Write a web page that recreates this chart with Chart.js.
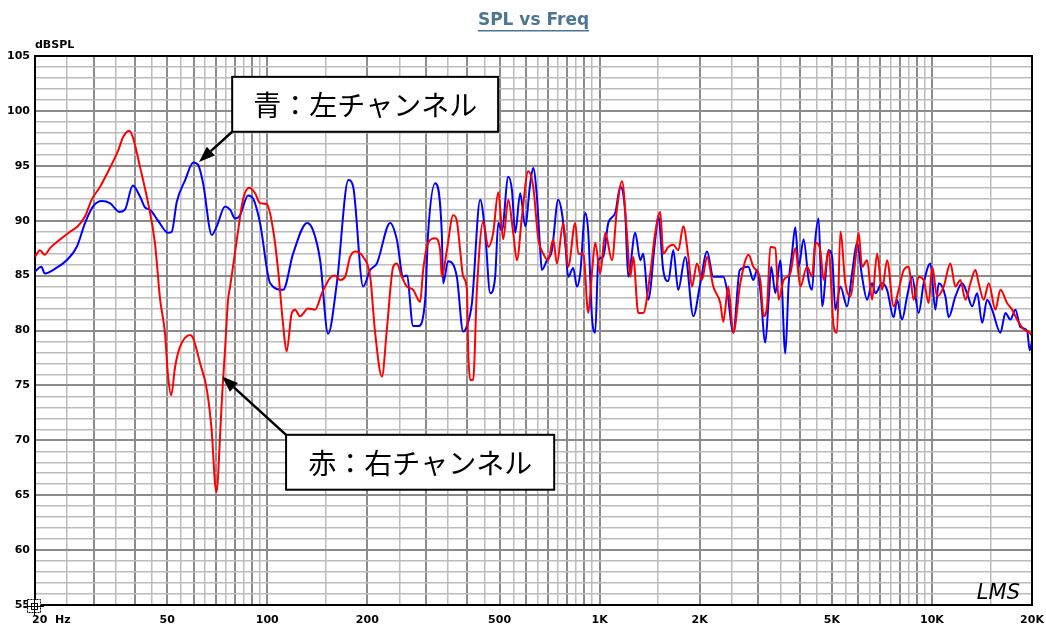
<!DOCTYPE html>
<html>
<head>
<meta charset="utf-8">
<script src="https://cdn.jsdelivr.net/npm/chart.js@4.4.1/dist/chart.umd.min.js"></script>
<style>
  html, body { margin: 0; padding: 0; background: #fff; }
</style>
</head>
<body>
<canvas id="spl" width="1046" height="628"></canvas>
<script>
// Left channel (blue) - frequency in Hz, level in dBSPL
const blueFreq = [
  20, 20.9, 21.4, 23.2, 24.9, 26.7, 28.3, 29.9, 31.8, 33.6,
  36.0, 37.3, 39.4, 41.4, 42.9, 44.4, 46.9, 50.3, 51.6, 53.4,
  56.6, 59.9, 61.9, 64.1, 68.1, 70.5, 74.6, 77.3, 80, 82.8,
  87.5, 90.7, 95.1, 102, 111.6, 119.6, 131.8, 137.4, 144.2, 152.4,
  161.9, 175.4, 181.3, 194.3, 204, 213.6, 234.3, 245.3, 256.3, 263,
  274.7, 284.5, 298.6, 304.8, 320, 335, 338.2, 350, 371.8, 388.5,
  398.7, 412.8, 437.1, 452.5, 468.5, 485, 495.4, 508, 531, 544.6,
  557.2, 576.8, 597.2, 618.2, 631.2, 647.5, 662.6, 670, 694, 718.6,
  750.7, 770.2, 787.9, 804.5, 832.8, 854.4, 874.2, 905, 924.5, 947.8,
  970, 990.7, 1025, 1062, 1114, 1154, 1194, 1219, 1280, 1325,
  1353, 1400, 1470, 1502, 1554, 1609, 1666, 1724, 1810, 1914,
  2009, 2105, 2198, 2356, 2417, 2525, 2640, 2801, 2901, 2976,
  3044, 3152, 3225, 3285, 3378, 3497, 3620, 3706, 3791, 3880,
  3970, 4110, 4255, 4357, 4457, 4560, 4671, 4888, 5008, 5120,
  5301, 5553, 5749, 5951, 6162, 6380, 6605, 6756, 7081, 7327,
  7669, 7851, 8128, 8416, 8713, 9121, 9442, 9891, 10240, 10479,
  10975, 11228, 11763, 12324, 12759, 13210, 13675, 14163, 14653, 15165,
  16069, 16635, 17222, 17829, 18458, 19334, 19687, 20000
];
const blueDb = [
  85.4, 85.8, 85.2, 85.7, 86.4, 87.6, 89.8, 91.3, 91.8, 91.6,
  90.8, 91.0, 93.2, 92.2, 91.2, 91.0, 90.0, 88.9, 89.0, 91.7,
  93.7, 95.3, 95.1, 93.4, 88.7, 89.5, 91.3, 91.0, 90.2, 90.5,
  92.3, 92.0, 89.8, 84.3, 83.7, 87.0, 89.8, 89.1, 86.4, 79.7,
  84.3, 93.7, 93.1, 84.0, 85.5, 86.1, 89.8, 88.3, 84.9, 85.0,
  80.4, 80.4, 82.8, 88.9, 93.4, 88.9, 84.3, 86.3, 84.9, 79.9,
  80.4, 82.5, 91.9, 88.9, 83.4, 84.9, 89.8, 89.1, 94.0, 92.8,
  88.9, 92.5, 89.5, 93.4, 94.8, 92.2, 87.3, 85.5, 86.4, 87.3,
  91.9, 90.7, 88.0, 84.9, 85.7, 84.0, 85.2, 90.7, 88.9, 81.3,
  79.8, 86.4, 86.7, 89.8, 90.7, 93.1, 90.7, 84.9, 88.9, 86.4,
  87.0, 82.8, 88.3, 90.4, 85.5, 84.5, 87.3, 83.7, 86.7, 81.3,
  84.3, 87.2, 84.9, 84.9, 83.7, 79.8, 85.5, 85.8, 84.6, 85.5,
  83.7, 78.9, 82.8, 85.8, 83.4, 86.4, 77.9, 84.3, 87.0, 89.4,
  85.8, 88.3, 84.6, 83.7, 88.3, 90.2, 82.2, 87.3, 86.7, 81.9,
  84.0, 82.2, 85.2, 88.0, 84.9, 82.8, 84.3, 83.4, 84.3, 83.7,
  81.2, 82.8, 81.0, 83.1, 84.9, 81.6, 84.3, 86.1, 81.9, 84.3,
  83.1, 81.2, 83.1, 84.3, 83.4, 82.2, 83.4, 80.7, 82.8, 81.9,
  79.8, 81.6, 81.0, 81.9, 80.3, 80.0, 78.2, 79.0
];

// Right channel (red)
const redFreq = [
  20, 20.7, 21.4, 22.2, 23.8, 25.5, 26.9, 28.3, 29.6, 31.4,
  33.6, 35.6, 36.8, 38.4, 39.4, 41.4, 43.8, 45.9, 47.6, 49.2,
  50.3, 51.4, 52.8, 54.6, 58.6, 59.8, 62.8, 65.8, 68.1, 69.6,
  70.5, 71.8, 73.0, 74.6, 76.2, 77.3, 81.0, 84.5, 88.2, 91.9,
  95.1, 99.7, 104.1, 107.8, 111.6, 114.3, 118.5, 121.3, 125.5, 132.7,
  139.3, 146, 154.6, 160, 165.6, 171.5, 177.5, 183.8, 194.3, 204,
  211.1, 221.3, 229, 239.2, 245.3, 254, 263, 274.7, 288.4, 294.4,
  304.8, 320, 331.3, 335, 347, 362.5, 371.8, 380.5, 388.5, 398.7,
  402.3, 407.9, 416.4, 427.3, 446.4, 462.3, 478.4, 495.4, 512.6, 531,
  549.5, 563.8, 583.9, 609.6, 631.2, 653.5, 676.5, 700.2, 725, 743.9,
  777, 804.5, 844.5, 862.1, 892.8, 924.5, 947.8, 970, 1004, 1040,
  1089, 1127, 1168, 1208, 1237, 1262, 1307, 1353, 1420, 1470,
  1522, 1554, 1609, 1666, 1724, 1786, 1849, 1896, 1963, 2032,
  2105, 2198, 2307, 2356, 2439, 2525, 2650, 2807, 2901, 3044,
  3115, 3190, 3263, 3378, 3456, 3578, 3748, 3880, 4017, 4208,
  4357, 4457, 4614, 4721, 4888, 5060, 5180, 5301, 5488, 5681,
  5881, 6017, 6162, 6380, 6605, 6837, 7081, 7327, 7669, 7940,
  8220, 8510, 8810, 9121, 9442, 9776, 10016, 10363, 10846, 11362,
  11763, 12177, 12607, 13052, 13512, 13824, 14311, 14823, 15521, 16069,
  16831, 17428, 18039, 18883, 19687, 20000
];
const redDb = [
  86.7, 87.3, 86.9, 87.5, 88.3, 89.0, 89.5, 90.4, 91.9, 93.1,
  94.8, 96.4, 97.6, 98.2, 97.6, 94.9, 91.6, 88.0, 82.8, 79.8,
  75.8, 74.1, 76.7, 78.5, 79.6, 79.3, 77.0, 74.6, 70.7, 66.1,
  65.3, 69.3, 73.7, 78.2, 82.8, 84.0, 88.3, 91.9, 93.0, 92.5,
  91.6, 91.5, 89.2, 85.5, 80.5, 78.1, 81.6, 81.9, 81.3, 82.0,
  81.9, 83.4, 84.8, 85.0, 84.6, 84.9, 86.7, 87.2, 86.7, 84.9,
  79.8, 75.8, 80.1, 85.8, 86.1, 84.9, 84.0, 83.7, 82.6, 85.5,
  88.0, 88.4, 87.3, 84.9, 87.3, 90.5, 90.0, 87.3, 84.9, 83.7,
  78.2, 75.5, 75.5, 83.7, 89.9, 87.6, 88.9, 92.6, 88.3, 91.9,
  88.9, 86.4, 90.4, 94.5, 93.1, 88.4, 87.0, 86.4, 88.3, 86.1,
  89.8, 85.8, 89.8, 87.0, 87.0, 81.6, 85.2, 88.0, 85.2, 88.9,
  86.4, 91.0, 93.6, 88.9, 84.9, 86.7, 81.6, 81.6, 85.2, 88.9,
  90.8, 87.0, 87.6, 87.8, 87.3, 89.5, 86.7, 84.0, 86.1, 84.6,
  86.7, 84.0, 82.5, 80.8, 84.0, 79.8, 84.3, 86.9, 85.8, 84.6,
  81.3, 82.2, 87.6, 87.5, 82.8, 84.6, 85.2, 87.5, 84.0, 85.8,
  84.9, 88.0, 87.3, 84.6, 87.3, 80.4, 79.8, 89.0, 84.3, 83.1,
  86.4, 88.9, 85.8, 86.4, 82.8, 87.0, 83.7, 86.4, 82.2, 83.7,
  85.5, 85.8, 82.8, 84.9, 84.6, 82.5, 85.8, 83.1, 84.0, 86.1,
  84.0, 84.6, 82.8, 84.3, 85.5, 84.3, 82.8, 84.3, 81.9, 83.7,
  82.5, 81.9, 81.0, 80.1, 79.8, 79.5
];

// axes
const freqTicks = [20, 50, 100, 200, 500, 1000, 2000, 5000, 10000, 20000];
const freqTickText = ["20 Hz", "50", "100", "200", "500", "1K", "2K", "5K", "10K", "20K"];
const decades = [10, 100, 1000, 10000];
const gridSteps = [1, 1.5, 2, 2.5, 3, 3.5, 4, 4.5, 5, 5.5, 6, 6.5, 7, 7.5, 8, 8.5, 9, 9.5];
const dbTicks = [55, 60, 65, 70, 75, 80, 85, 90, 95, 100, 105];

// call-outs, placed in data units (Hz, dB)
const notes = [
  { text: "青：左チャンネル", box: [78.4, 495, 103.1, 98.1], tip: [62.3, 95.35], from: "bottom" },
  { text: "赤：右チャンネル", box: [113.9, 730, 70.5, 65.5], tip: [73.1, 75.8], from: "top" }
];

const freqGrid = decades
  .flatMap((d) => gridSteps.map((m) => m * d))
  .filter((v) => v >= 20 && v <= 20000);
const dbGrid = [];
for (let v = 55; v <= 105; v++) dbGrid.push(v);

const toPoints = (f, d) => f.map((x, i) => ({ x: x, y: d[i] }));

const isWholeStep = (v) => {
  const m = v / Math.pow(10, Math.floor(Math.log10(v) + 1e-9));
  return Math.abs(m - Math.round(m)) < 1e-6;
};

const tickFont = { family: "DejaVu Sans", size: 11, weight: "bold" };

const decor = {
  id: "decor",
  afterDatasetsDraw(chart) {
    const { ctx, chartArea: a, scales: { x, y } } = chart;
    ctx.save();
    // top and right side of the frame
    ctx.strokeStyle = "#000";
    ctx.lineWidth = 2;
    ctx.beginPath();
    ctx.moveTo(a.left, a.top);
    ctx.lineTo(a.right, a.top);
    ctx.lineTo(a.right, a.bottom);
    ctx.stroke();

    // call-out boxes with arrows
    notes.forEach((n) => {
      const l = x.getPixelForValue(n.box[0]);
      const r = x.getPixelForValue(n.box[1]);
      const t = y.getPixelForValue(n.box[2]);
      const b = y.getPixelForValue(n.box[3]);
      const tx = x.getPixelForValue(n.tip[0]);
      const ty = y.getPixelForValue(n.tip[1]);
      const sx = l;
      const sy = n.from === "bottom" ? b : t;
      const ang = Math.atan2(ty - sy, tx - sx);
      const head = 16, half = 6;
      const hx = tx - head * Math.cos(ang);
      const hy = ty - head * Math.sin(ang);

      ctx.strokeStyle = "#000";
      ctx.fillStyle = "#000";
      ctx.lineWidth = 2.5;
      ctx.beginPath();
      ctx.moveTo(sx, sy);
      ctx.lineTo(hx, hy);
      ctx.stroke();
      ctx.beginPath();
      ctx.moveTo(tx, ty);
      ctx.lineTo(hx + half * Math.sin(ang), hy - half * Math.cos(ang));
      ctx.lineTo(hx - half * Math.sin(ang), hy + half * Math.cos(ang));
      ctx.closePath();
      ctx.fill();

      ctx.fillStyle = "#fff";
      ctx.fillRect(l, t, r - l, b - t);
      ctx.lineWidth = 2;
      ctx.strokeRect(l, t, r - l, b - t);
      ctx.fillStyle = "#000";
      ctx.font = '28px "Noto Sans CJK JP"';
      ctx.textAlign = "center";
      ctx.textBaseline = "middle";
      ctx.fillText(n.text, (l + r) / 2, (t + b) / 2 + 1);
    });
    ctx.restore();
  },
  afterDraw(chart) {
    const { ctx, chartArea: a, scales: { x } } = chart;
    ctx.save();

    // title
    ctx.fillStyle = "#4b7693";
    ctx.font = 'bold 17px "DejaVu Sans"';
    ctx.textAlign = "center";
    ctx.textBaseline = "alphabetic";
    const title = "SPL vs Freq";
    const cx = (a.left + a.right) / 2;
    ctx.fillText(title, cx, 25);
    const tw = ctx.measureText(title).width;
    ctx.fillRect(cx - tw / 2, 30, tw, 1.5);

    // unit label
    ctx.fillStyle = "#000";
    ctx.font = 'bold 11px "DejaVu Sans"';
    ctx.textAlign = "left";
    ctx.fillText("dBSPL", a.left, 48);

    // first frequency label sits to the right of its tick
    ctx.textBaseline = "middle";
    ctx.fillText(freqTickText[0].replace(" ", "  "), x.getPixelForValue(freqTicks[0]) - 3, a.bottom + 9 + 6.6);

    // LMS mark
    ctx.font = 'italic 21px "DejaVu Sans"';
    ctx.textAlign = "right";
    ctx.textBaseline = "alphabetic";
    ctx.fillText("LMS", a.right - 12, a.bottom - 6);

    // cursor icon at the origin
    const ox = a.left, oy = a.bottom;
    ctx.fillStyle = "#fff";
    ctx.fillRect(ox - 7, oy - 5, 13, 13);
    ctx.strokeStyle = "#000";
    ctx.lineWidth = 1;
    ctx.setLineDash([2, 1]);
    ctx.strokeRect(ox - 7.5, oy - 5.5, 13, 13);
    ctx.setLineDash([]);
    ctx.strokeRect(ox - 3.5, oy - 1.5, 6, 6);
    ctx.beginPath();
    ctx.moveTo(ox - 0.5, oy - 9); ctx.lineTo(ox - 0.5, oy + 11);
    ctx.moveTo(ox - 11, oy + 1.5); ctx.lineTo(ox + 9, oy + 1.5);
    ctx.stroke();
    ctx.restore();
  }
};

new Chart(document.getElementById("spl"), {
  type: "line",
  data: {
    datasets: [
      {
        label: "赤：右チャンネル",
        data: toPoints(redFreq, redDb),
        borderColor: "#ff0000",
        borderWidth: 2,
        pointRadius: 0,
        cubicInterpolationMode: "monotone",
        order: 0
      },
      {
        label: "青：左チャンネル",
        data: toPoints(blueFreq, blueDb),
        borderColor: "#0000ff",
        borderWidth: 2,
        pointRadius: 0,
        cubicInterpolationMode: "monotone",
        order: 1
      }
    ]
  },
  options: {
    responsive: false,
    animation: false,
    events: [],
    layout: { padding: { top: 56, right: 14, bottom: 0, left: 0 } },
    plugins: { legend: { display: false }, tooltip: { enabled: false }, title: { display: false } },
    scales: {
      x: {
        type: "logarithmic",
        min: 20,
        max: 20000,
        afterBuildTicks: (scale) => {
          scale.ticks = freqGrid.map((v) => ({ value: v }));
        },
        afterFit: (scale) => {
          scale.height = 23;
          scale.paddingLeft = 0;
          scale.paddingRight = 0;
        },
        ticks: {
          autoSkip: false,
          maxRotation: 0,
          minRotation: 0,
          padding: 9,
          color: "#000",
          font: tickFont,
          callback: (value) => {
            const i = freqTicks.indexOf(value);
            return i > 0 ? freqTickText[i] : "";
          }
        },
        grid: {
          drawTicks: false,
          color: (c) => (isWholeStep(c.tick.value) ? "#8c8c8c" : "#bcbcbc"),
          lineWidth: (c) => (isWholeStep(c.tick.value) ? 2 : 1.5)
        },
        border: { color: "#000", width: 2 }
      },
      y: {
        min: 55,
        max: 105,
        afterBuildTicks: (scale) => {
          scale.ticks = dbGrid.map((v) => ({ value: v }));
        },
        afterFit: (scale) => {
          scale.width = 35;
          scale.paddingTop = 0;
          scale.paddingBottom = 0;
        },
        ticks: {
          autoSkip: false,
          padding: 5,
          color: "#000",
          font: tickFont,
          callback: (value) => (dbTicks.includes(value) ? String(value) : "")
        },
        grid: {
          drawTicks: false,
          color: (c) => (c.tick.value % 5 === 0 ? "#8c8c8c" : "#bcbcbc"),
          lineWidth: (c) => (c.tick.value % 5 === 0 ? 2 : 1.5)
        },
        border: { color: "#000", width: 2 }
      }
    }
  },
  plugins: [decor]
});
</script>
</body>
</html>
